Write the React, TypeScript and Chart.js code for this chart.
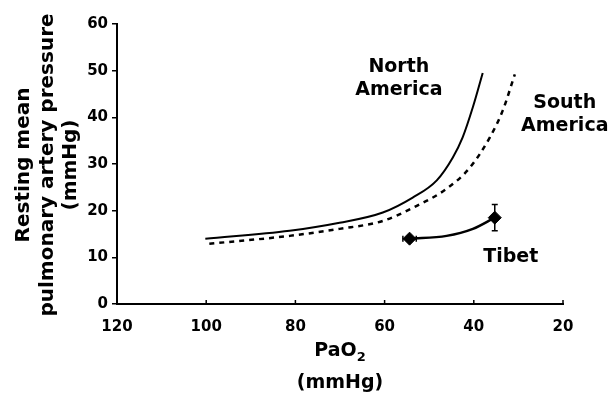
import React, { useEffect, useRef } from "react";
import { Chart, registerables } from "chart.js";

Chart.register(...registerables);

// North America (solid)
const northX = [100.2, 81.3, 70.1, 60.4, 53.7, 48.3, 44.7, 42.5, 40.2, 38.0];
const northY = [14.0, 15.7, 17.4, 19.6, 22.8, 26.5, 31.4, 35.7, 42.2, 49.5];
// South America (dashed)
const southX = [99.3, 81.3, 70.1, 60.4, 53.7, 46.1, 40.9, 36.4, 33.5, 30.8];
const southY = [12.9, 14.6, 16.1, 17.8, 20.6, 24.7, 29.2, 35.7, 41.5, 49.2];
// Tibet connecting curve
const tibetLineX = [54.4, 46.1, 40.2, 35.3];
const tibetLineY = [14.0, 14.6, 16.1, 18.5];
// Tibet measured points with error bars
const tibetX = [54.4, 35.3];
const tibetY = [14.0, 18.5];
const tibetXErr = [1.5, 0];
const tibetYErr = [0, 2.8];

const xTicks = [120, 100, 80, 60, 40, 20];
const yTicks = [0, 10, 20, 30, 40, 50, 60];

const yTitleLines = ["Resting mean", "pulmonary artery pressure", "(mmHg)"];
const annotations = [
  { lines: ["North", "America"], x: 56.8, y: 50.8 },
  { lines: ["South", "America"], x: 19.6, y: 43.1 },
  { lines: ["Tibet"], x: 31.7, y: 10.1 },
];

const FONT = "'DejaVu Sans', sans-serif";

const zip = (xs: number[], ys: number[]) => xs.map((x, i) => ({ x, y: ys[i] }));

const overlay = {
  id: "overlay",
  afterDatasetsDraw(chart: any) {
    const ctx = chart.ctx;
    const xs = chart.scales.x;
    const ys = chart.scales.y;
    ctx.save();
    ctx.fillStyle = "#000";
    ctx.strokeStyle = "#000";

    // small upward ticks on x axis
    ctx.lineWidth = 1.5;
    const axisY = ys.getPixelForValue(0);
    xTicks.forEach((t) => {
      if (t === 120) return;
      const px = xs.getPixelForValue(t);
      ctx.beginPath();
      ctx.moveTo(px, axisY);
      ctx.lineTo(px, axisY - 4);
      ctx.stroke();
    });

    // error bars
    ctx.lineWidth = 1.5;
    tibetX.forEach((x, i) => {
      const px = xs.getPixelForValue(x);
      const py = ys.getPixelForValue(tibetY[i]);
      if (tibetYErr[i]) {
        const t = ys.getPixelForValue(tibetY[i] + tibetYErr[i]);
        const b = ys.getPixelForValue(tibetY[i] - tibetYErr[i]);
        ctx.beginPath();
        ctx.moveTo(px, t); ctx.lineTo(px, b);
        ctx.moveTo(px - 3, t); ctx.lineTo(px + 3, t);
        ctx.moveTo(px - 3, b); ctx.lineTo(px + 3, b);
        ctx.stroke();
      }
      if (tibetXErr[i]) {
        const l = xs.getPixelForValue(x + tibetXErr[i]);
        const r = xs.getPixelForValue(x - tibetXErr[i]);
        ctx.beginPath();
        ctx.moveTo(l, py); ctx.lineTo(r, py);
        ctx.moveTo(l, py - 3); ctx.lineTo(l, py + 3);
        ctx.moveTo(r, py - 3); ctx.lineTo(r, py + 3);
        ctx.stroke();
      }
    });

    // annotations
    ctx.font = `bold 19px ${FONT}`;
    ctx.textAlign = "center";
    ctx.textBaseline = "middle";
    annotations.forEach((a) => {
      const px = xs.getPixelForValue(a.x);
      const py = ys.getPixelForValue(a.y);
      a.lines.forEach((ln, i) => ctx.fillText(ln, px, py + i * 23));
    });

    // y-axis title
    ctx.save();
    ctx.translate(0, 165);
    ctx.rotate(-Math.PI / 2);
    ctx.font = `bold 20px ${FONT}`;
    yTitleLines.forEach((ln, i) => ctx.fillText(ln, 0, 24 + i * 23.5));
    ctx.restore();

    // x-axis title: PaO2 with subscript
    const cx = (xs.left + xs.right) / 2;
    ctx.font = `bold 19px ${FONT}`;
    const main = "PaO";
    const wMain = ctx.measureText(main).width;
    ctx.font = `bold 13px ${FONT}`;
    const wSub = ctx.measureText("2").width;
    const start = cx - (wMain + wSub) / 2;
    ctx.textAlign = "left";
    ctx.font = `bold 19px ${FONT}`;
    ctx.fillText(main, start, 351);
    ctx.font = `bold 13px ${FONT}`;
    ctx.fillText("2", start + wMain, 358);
    ctx.textAlign = "center";
    ctx.font = `bold 19px ${FONT}`;
    ctx.fillText("(mmHg)", cx, 383);
    ctx.restore();
  },
};

export default function App() {
  const ref = useRef<HTMLCanvasElement>(null);
  useEffect(() => {
    const chart = new Chart(ref.current!, {
      type: "line",
      data: {
        datasets: [
          {
            data: zip(northX, northY),
            borderColor: "#000",
            borderWidth: 2,
            pointRadius: 0,
            cubicInterpolationMode: "monotone",
            fill: false,
          },
          {
            data: zip(southX, southY),
            borderColor: "#000",
            borderWidth: 2.5,
            borderDash: [5, 5],
            pointRadius: 0,
            cubicInterpolationMode: "monotone",
            fill: false,
          },
          {
            data: zip(tibetLineX, tibetLineY),
            borderColor: "#000",
            borderWidth: 2.5,
            pointRadius: 0,
            cubicInterpolationMode: "monotone",
            fill: false,
          },
          {
            data: zip(tibetX, tibetY),
            showLine: false,
            pointStyle: "rectRot",
            pointRadius: 6.5,
            backgroundColor: "#000",
            borderColor: "#000",
          },
        ],
      },
      options: {
        responsive: false,
        animation: false,
        layout: { padding: { left: 0, top: 24, right: 50, bottom: 0 } },
        plugins: { legend: { display: false }, tooltip: { enabled: false } },
        scales: {
          x: {
            type: "linear",
            reverse: true,
            min: 20,
            max: 120,
            afterBuildTicks: (s: any) => { s.ticks = xTicks.map((v) => ({ value: v })); },
            afterFit: (s: any) => { s.height = 92; },
            grid: { drawOnChartArea: false, drawTicks: false },
            border: { display: true, color: "#000", width: 2 },
            ticks: { color: "#000", font: { family: FONT, size: 15, weight: "bold" }, padding: 14, maxRotation: 0 },
          },
          y: {
            type: "linear",
            min: 0,
            max: 60,
            afterBuildTicks: (s: any) => { s.ticks = yTicks.map((v) => ({ value: v })); },
            afterFit: (s: any) => { s.width = 117; },
            grid: { drawOnChartArea: false, drawTicks: true, tickLength: 5, color: "#000", lineWidth: 1.5 },
            border: { display: true, color: "#000", width: 2 },
            ticks: { color: "#000", font: { family: FONT, size: 15, weight: "bold" }, padding: 4 },
          },
        },
      },
      plugins: [overlay],
    });
    return () => chart.destroy();
  }, []);
  return (
    <div style={{ position: "absolute", left: 0, top: 0, width: 613, height: 396, background: "#fff" }}>
      <canvas ref={ref} width={613} height={396} />
    </div>
  );
}
